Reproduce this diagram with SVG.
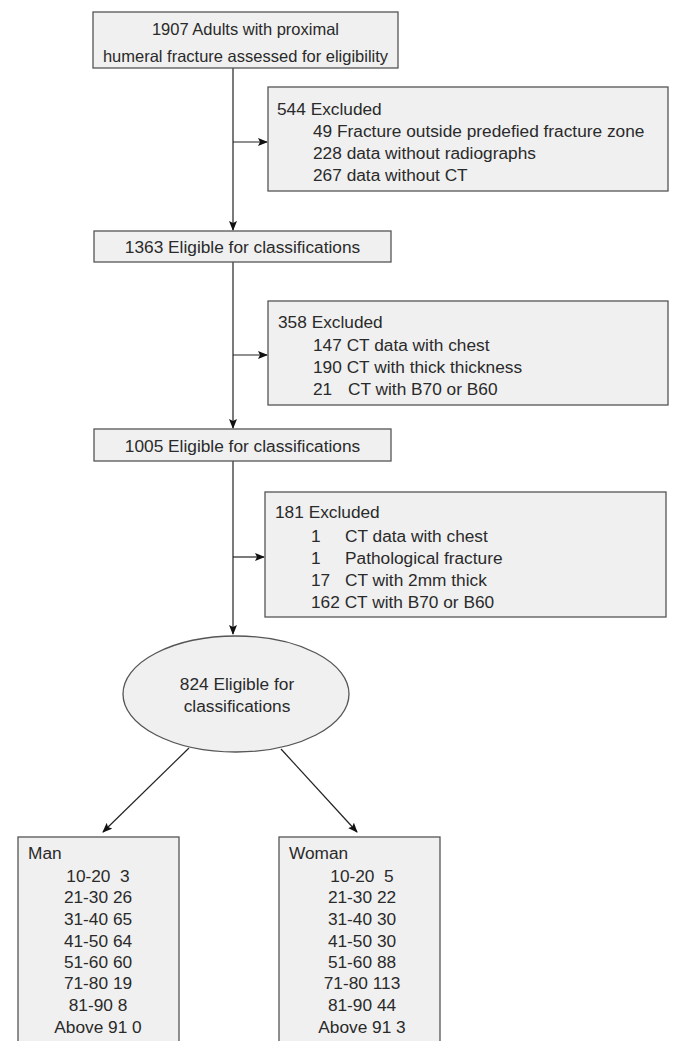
<svg xmlns="http://www.w3.org/2000/svg" width="675" height="1041" viewBox="0 0 675 1041">
<style>
.box{fill:#f0f0f0;stroke:#555;stroke-width:1.3}
text{font-family:"Liberation Sans",Arial,sans-serif;font-size:17.3px;fill:#2a2a2a;white-space:pre}
.t{font-size:16.5px}
.c{text-anchor:middle}
.ln{stroke:#222;stroke-width:1.2;fill:none}
</style>
<defs>
<marker id="ah" markerWidth="10" markerHeight="8" refX="9" refY="4" orient="auto" markerUnits="userSpaceOnUse">
<path d="M0,0 L10,4 L0,8 L2,4 Z" fill="#111"/>
</marker>
</defs>
<rect width="675" height="1041" fill="#fff"/>
<g id="connectors">
<line class="ln" x1="233" y1="68" x2="233" y2="230" marker-end="url(#ah)"/>
<line class="ln" x1="233" y1="142" x2="267" y2="142" marker-end="url(#ah)"/>
<line class="ln" x1="233" y1="262" x2="233" y2="428" marker-end="url(#ah)"/>
<line class="ln" x1="233" y1="355" x2="267" y2="355" marker-end="url(#ah)"/>
<line class="ln" x1="233" y1="461" x2="233" y2="634" marker-end="url(#ah)"/>
<line class="ln" x1="233" y1="557" x2="264" y2="557" marker-end="url(#ah)"/>
<line class="ln" x1="189" y1="748" x2="103" y2="832" marker-end="url(#ah)"/>
<line class="ln" x1="281" y1="749" x2="357" y2="832" marker-end="url(#ah)"/>
</g>
<g id="n1">
<rect class="box" x="93" y="12" width="305" height="56"/>
<text class="c t" x="245.5" y="35">1907 Adults with proximal</text>
<text class="c t" x="245.5" y="62">humeral fracture assessed for eligibility</text>
</g>
<g id="ex1">
<rect class="box" x="268" y="87" width="400" height="104"/>
<text x="277" y="115">544 Excluded</text>
<text x="313" y="137">49 Fracture outside predefied fracture zone</text>
<text x="313" y="159">228 data without radiographs</text>
<text x="313" y="181">267 data without CT</text>
</g>
<g id="n2">
<rect class="box" x="94" y="231" width="297" height="31"/>
<text class="c" x="242.5" y="253">1363 Eligible for classifications</text>
</g>
<g id="ex2">
<rect class="box" x="268" y="301" width="400" height="104"/>
<text x="278" y="328">358 Excluded</text>
<text x="313" y="351">147 CT data with chest</text>
<text x="313" y="373">190 CT with thick thickness</text>
<text x="313" y="395">21</text>
<text x="348" y="395">CT with B70 or B60</text>
</g>
<g id="n3">
<rect class="box" x="94" y="429" width="297" height="32"/>
<text class="c" x="242.5" y="452">1005 Eligible for classifications</text>
</g>
<g id="ex3">
<rect class="box" x="265" y="492" width="401" height="125"/>
<text x="275" y="518">181 Excluded</text>
<text x="311" y="542">1</text>
<text x="345" y="542">CT data with chest</text>
<text x="311" y="564">1</text>
<text x="345" y="564">Pathological fracture</text>
<text x="311" y="586">17</text>
<text x="345" y="586">CT with 2mm thick</text>
<text x="311" y="608">162 CT with B70 or B60</text>
</g>
<g id="n4">
<ellipse class="box" cx="236" cy="694" rx="113" ry="58"/>
<text class="c" x="237" y="690">824 Eligible for</text>
<text class="c" x="237" y="712">classifications</text>
</g>
<g id="man">
<rect class="box" x="18" y="837" width="161" height="212"/>
<text x="28" y="859">Man</text>
<text class="c" x="98" y="882">10-20  3</text>
<text class="c" x="98" y="903">21-30 26</text>
<text class="c" x="98" y="925">31-40 65</text>
<text class="c" x="98" y="947">41-50 64</text>
<text class="c" x="98" y="968">51-60 60</text>
<text class="c" x="98" y="989">71-80 19</text>
<text class="c" x="98" y="1011">81-90 8</text>
<text class="c" x="98" y="1033">Above 91 0</text>
</g>
<g id="woman">
<rect class="box" x="279" y="837" width="161" height="212"/>
<text x="289" y="859">Woman</text>
<text class="c" x="362" y="882">10-20  5</text>
<text class="c" x="362" y="903">21-30 22</text>
<text class="c" x="362" y="925">31-40 30</text>
<text class="c" x="362" y="947">41-50 30</text>
<text class="c" x="362" y="968">51-60 88</text>
<text class="c" x="362" y="989">71-80 113</text>
<text class="c" x="362" y="1011">81-90 44</text>
<text class="c" x="362" y="1033">Above 91 3</text>
</g>
</svg>
